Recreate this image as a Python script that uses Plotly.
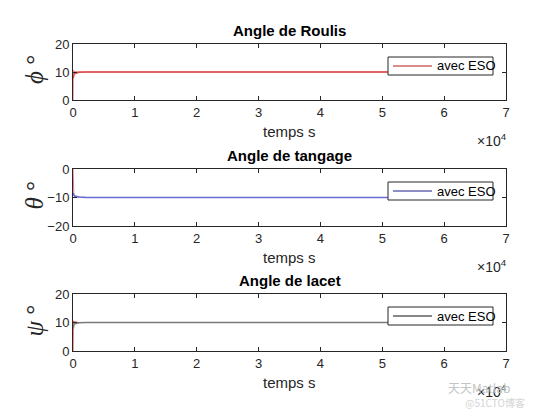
import plotly.graph_objects as go

# ---- data ----
t_resp = [0, 40, 80, 150, 300, 600, 1000, 2000, 4000, 10000, 20000, 40000, 60000]
phi_resp = [0, 10.6, 10.5, 10.3, 10.1, 10.0, 10.0, 10.0, 10.0, 10.0, 10.0, 10.0, 10.0]
phi_est = [None, 7.8, 8.6, 9.1, 9.5, 9.75, 9.9, 10.0, 10.0, 10.0, 10.0, 10.0, 10.0]

theta_resp = [0, -9.0, -9.3, -9.5, -9.7, -9.85, -9.95, -10.0, -10.0, -10.0, -10.0, -10.0, -10.0]
theta_est = [None, -8.4, -8.9, -9.2, -9.5, -9.7, -9.85, -9.95, -10.0, -10.0, -10.0, -10.0, -10.0]

psi_resp = [0, 10.6, 10.5, 10.3, 10.2, 10.1, 10.0, 10.0, 10.0, 10.0, 10.0, 10.0, 10.0]
psi_est = [None, 7.9, 8.8, 9.3, 9.6, 9.8, 9.9, 10.0, 10.0, 10.0, 10.0, 10.0, 10.0]

titles = ["Angle de Roulis", "Angle de tangage", "Angle de lacet"]
ylabels = ["<i>ϕ</i> °", "<i>θ</i> °", "<i>ψ</i> °"]
x_ticks = [0, 10000, 20000, 30000, 40000, 50000, 60000, 70000]
x_ticktext = ["0", "1", "2", "3", "4", "5", "6", "7"]
y_ranges = [[0, 20], [-20, 0], [0, 20]]
y_ticks = [[0, 10, 20], [-20, -10, 0], [0, 10, 20]]
legend_name = "avec ESO"

W, H = 560, 420
OFF = 8  # page body margin offset
x0, x1 = 73, 506
panels = [(44, 100), (169, 226), (294, 351)]

def px(p):
    return (p - OFF) / W

def py(p):
    return 1 - (p - OFF) / H

fig = go.Figure()

resp = [phi_resp, theta_resp, psi_resp]
est = [phi_est, theta_est, psi_est]
legend_colors = ["#b01818", "#1c1c90", "#101010"]
resp_colors = ["#ec6a6a", "#e87890", "#e84848"]
long_colors = ["#e04848", "#6a6ad8", "#7a7a7a"]
axis_col = "#262626"
font = "Liberation Sans, Arial, sans-serif"

for i in range(3):
    xa = "x" if i == 0 else f"x{i+1}"
    ya = "y" if i == 0 else f"y{i+1}"
    fig.add_trace(go.Scatter(x=t_resp, y=resp[i], mode="lines",
                             line=dict(color=resp_colors[i], width=1),
                             xaxis=xa, yaxis=ya, showlegend=False))
    fig.add_trace(go.Scatter(x=t_resp, y=est[i], mode="lines",
                             line=dict(color=long_colors[i], width=1.6),
                             name=legend_name, xaxis=xa, yaxis=ya,
                             showlegend=False))

layout = dict(
    width=W, height=H,
    margin=dict(l=0, r=0, t=0, b=0, autoexpand=False),
    paper_bgcolor="white", plot_bgcolor="white",
    font=dict(family=font, size=12, color=axis_col),
    showlegend=False,
    annotations=[], shapes=[],
)

for i in range(3):
    top, bot = panels[i]
    xk = "xaxis" if i == 0 else f"xaxis{i+1}"
    yk = "yaxis" if i == 0 else f"yaxis{i+1}"
    ya = "y" if i == 0 else f"y{i+1}"
    xa = "x" if i == 0 else f"x{i+1}"
    layout[xk] = dict(domain=[px(x0), px(x1)], anchor=ya, range=[0, 70000],
                      tickvals=x_ticks, ticktext=x_ticktext,
                      ticks="inside", ticklen=4, tickcolor=axis_col,
                      showline=True, linecolor=axis_col, linewidth=1,
                      mirror="allticks", showgrid=False, zeroline=False,
                      tickfont=dict(size=13, color=axis_col))
    layout[yk] = dict(domain=[py(bot), py(top)], anchor=xa, range=y_ranges[i],
                      tickvals=y_ticks[i], ticks="inside", ticklen=4,
                      tickcolor=axis_col, showline=True, linecolor=axis_col,
                      linewidth=1, mirror="allticks", showgrid=False,
                      zeroline=False, tickfont=dict(size=13, color=axis_col))
    # manual legend box
    lt, lb = top + 13, top + 31
    layout["shapes"].append(dict(type="rect", xref="paper", yref="paper",
                                 x0=px(388), x1=px(493), y0=py(lb), y1=py(lt),
                                 line=dict(color=axis_col, width=1),
                                 fillcolor="white", layer="above"))
    layout["shapes"].append(dict(type="line", xref="paper", yref="paper",
                                 x0=px(393), x1=px(432), y0=py((lt + lb) / 2),
                                 y1=py((lt + lb) / 2),
                                 line=dict(color=legend_colors[i], width=1),
                                 layer="above"))
    layout["annotations"].append(dict(text=legend_name, x=px(435), y=py((lt + lb) / 2),
                                      xref="paper", yref="paper", showarrow=False,
                                      xanchor="left", yanchor="middle",
                                      font=dict(size=13, color="black")))
    # title
    layout["annotations"].append(dict(text=f"<b>{titles[i]}</b>", x=px((x0 + x1) / 2),
                                      y=py(top - 14), xref="paper", yref="paper",
                                      showarrow=False, yanchor="middle",
                                      font=dict(size=15, color="black")))
    # x label
    layout["annotations"].append(dict(text="temps s", x=px((x0 + x1) / 2),
                                      y=py(bot + 31), xref="paper", yref="paper",
                                      showarrow=False, yanchor="middle",
                                      font=dict(size=15, color=axis_col)))
    # exponent
    layout["annotations"].append(dict(text="×10<sup>4</sup>", x=px(475),
                                      y=py(bot + 40), xref="paper", yref="paper",
                                      showarrow=False, xanchor="left", yanchor="middle",
                                      font=dict(size=14, color=axis_col)))
    # y label
    layout["annotations"].append(dict(text=ylabels[i], x=px(34),
                                      y=py((top + bot) / 2 - 2), xref="paper", yref="paper",
                                      showarrow=False, textangle=-90,
                                      xanchor="center", yanchor="middle",
                                      font=dict(size=25, color=axis_col,
                                                family="Liberation Serif, serif")))

# watermark
layout["annotations"].append(dict(text="天天Matlab", x=px(512), y=py(398),
                                  xref="paper", yref="paper", showarrow=False,
                                  font=dict(size=12, color="#c4c4c4",
                                            family="Noto Sans CJK SC")))
layout["annotations"].append(dict(text="@51CTO博客", x=px(527), y=py(412),
                                  xref="paper", yref="paper", showarrow=False,
                                  font=dict(size=10, color="#d4d4d4",
                                            family="Noto Sans CJK SC")))

fig.update_layout(**layout)
fig.write_html("out.html")
